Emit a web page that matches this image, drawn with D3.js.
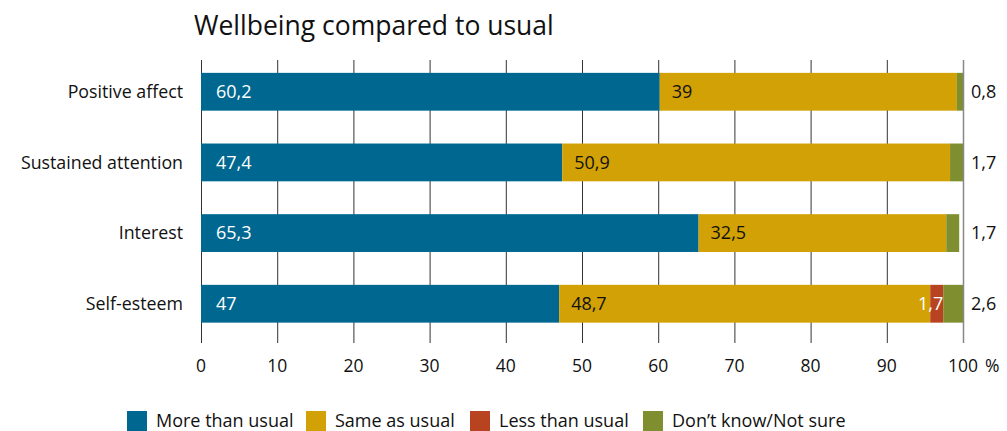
<!DOCTYPE html>
<html>
<head>
<meta charset="utf-8">
<script src="https://cdn.jsdelivr.net/npm/d3@7"></script>
<style>
  html, body { margin: 0; padding: 0; background: #fff; }
  svg { display: block; font-family: "Open Sans", sans-serif; }
</style>
</head>
<body>
<svg id="chart" width="1007" height="431"></svg>
<script>
const title = "Wellbeing compared to usual";
const categories = ["Positive affect", "Sustained attention", "Interest", "Self-esteem"];
const seriesNames = ["More than usual", "Same as usual", "Less than usual", "Don\u2019t know/Not sure"];
const moreThanUsual = [60.2, 47.4, 65.3, 47];
const sameAsUsual = [39, 50.9, 32.5, 48.7];
const lessThanUsual = [0, 0, 0, 1.7];
const dontKnow = [0.8, 1.7, 1.7, 2.6];
const tickValues = [0, 10, 20, 30, 40, 50, 60, 70, 80, 90, 100];
const colors = ["#006890", "#D2A106", "#B84320", "#7F8F30"];

const series = [moreThanUsual, sameAsUsual, lessThanUsual, dontKnow];
const rows = categories.map((c, i) => {
  const o = { category: c };
  seriesNames.forEach((s, j) => o[s] = series[j][i]);
  return o;
});
const stacked = d3.stack().keys(seriesNames)(rows);

const svg = d3.select("#chart");
const x = d3.scaleLinear().domain([0, 100]).range([201, 963]);
const y = d3.scaleBand().domain(categories).range([40, 355.5]).paddingInner(0.465).paddingOuter(0.465);
const gridTop = 60, gridBottom = 343;
const fmt = v => String(v).replace(".", ",");

// title
svg.append("text").attr("x", 194).attr("y", 35).attr("font-size", 26.5).attr("fill", "#111").text(title);

// gridlines
svg.append("g").selectAll("line").data(tickValues.filter(t => t < 100)).join("line")
  .attr("x1", d => x(d) + 0.5).attr("x2", d => x(d) + 0.5)
  .attr("y1", gridTop).attr("y2", gridBottom)
  .attr("stroke", "#333").attr("stroke-width", 1);

// bars
const layer = svg.append("g").selectAll("g").data(stacked).join("g")
  .attr("fill", (d, i) => colors[i]);
layer.selectAll("rect").data(d => d).join("rect")
  .attr("x", d => x(d[0]))
  .attr("width", d => x(d[1]) - x(d[0]))
  .attr("y", d => y(d.data.category))
  .attr("height", y.bandwidth());

// 100 line on top
svg.append("line")
  .attr("x1", x(100) + 0.5).attr("x2", x(100) + 0.5)
  .attr("y1", gridTop).attr("y2", gridBottom)
  .attr("stroke", "#888").attr("stroke-width", 1.5);

// category labels
svg.append("g").selectAll("text").data(categories).join("text")
  .attr("x", 183).attr("y", d => y(d) + y.bandwidth() / 2)
  .attr("dy", "0.35em").attr("text-anchor", "end")
  .attr("font-size", 17.8).attr("fill", "#111").text(d => d);

// value labels
const lbl = svg.append("g").attr("font-size", 18);
categories.forEach((c, i) => {
  const cy = y(c) + y.bandwidth() / 2;
  lbl.append("text").attr("x", x(0) + 15).attr("y", cy).attr("dy", "0.35em")
    .attr("fill", "#fff").text(fmt(moreThanUsual[i]));
  lbl.append("text").attr("x", x(moreThanUsual[i]) + 12).attr("y", cy).attr("dy", "0.35em")
    .attr("fill", "#111").text(fmt(sameAsUsual[i]));
  if (lessThanUsual[i] > 0) {
    lbl.append("text").attr("x", x(moreThanUsual[i] + sameAsUsual[i] + lessThanUsual[i]))
      .attr("y", cy).attr("dy", "0.35em").attr("text-anchor", "end")
      .attr("fill", "#fff").text(fmt(lessThanUsual[i]));
  }
  lbl.append("text").attr("x", x(100) + 8).attr("y", cy).attr("dy", "0.35em")
    .attr("fill", "#111").text(fmt(dontKnow[i]));
});

// x axis ticks and labels
const ax = svg.append("g");
ax.selectAll("text").data(tickValues).join("text")
  .attr("x", d => x(d)).attr("y", 372).attr("text-anchor", "middle")
  .attr("font-size", 17.5).attr("fill", "#111").text(d => d);
svg.append("text").attr("x", 985).attr("y", 372).attr("font-size", 17.5).attr("fill", "#111").text("%");

// legend
const legendX = [127, 306, 470, 643];
const lg = svg.append("g").selectAll("g").data(seriesNames).join("g")
  .attr("transform", (d, i) => `translate(${legendX[i]},411)`);
lg.append("rect").attr("width", 20).attr("height", 20).attr("fill", (d, i) => colors[i]);
lg.append("text").attr("x", 29).attr("y", 16).attr("font-size", 18).attr("fill", "#111").text(d => d);
</script>
</body>
</html>
